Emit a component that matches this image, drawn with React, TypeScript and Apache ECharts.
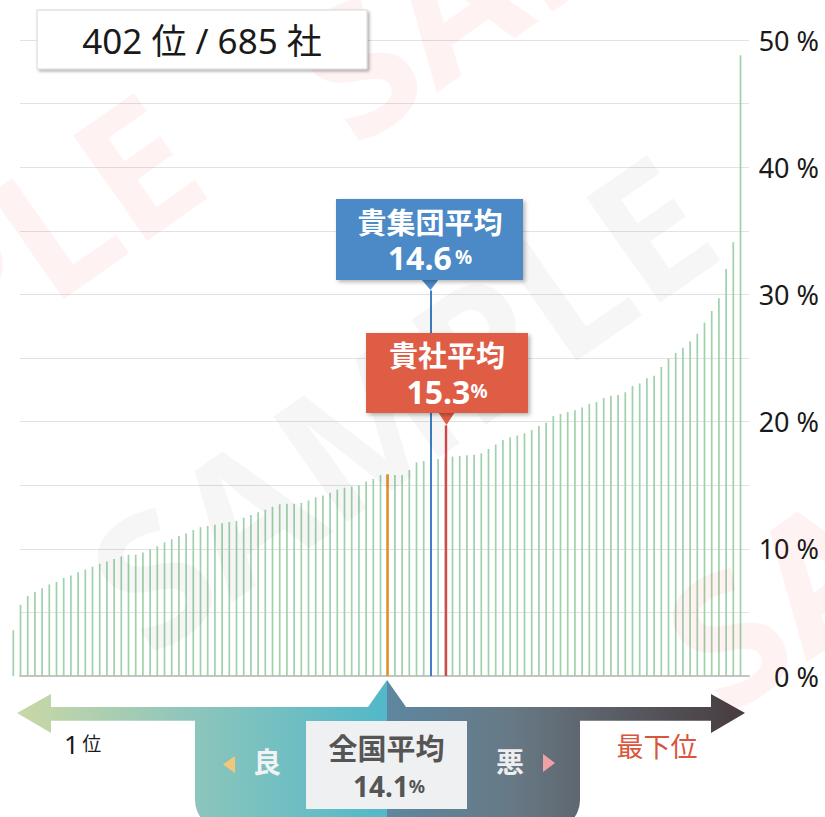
import React, { useEffect, useRef } from "react";
import * as echarts from "echarts";

// distribution of all companies (sorted), percent
const values = [
  3.6, 5.6, 6.3, 6.6, 6.9, 7.2, 7.4, 7.7, 7.9, 8.15,
  8.36, 8.6, 8.83, 9.0, 9.2, 9.4, 9.54, 9.54, 9.7, 9.96,
  10.2, 10.5, 10.75, 11.0, 11.2, 11.48, 11.7, 11.8, 11.9, 12.0,
  12.1, 12.2, 12.45, 12.66, 12.87, 13.07, 13.3, 13.5, 13.55, 13.55,
  13.6, 13.8, 14.05, 14.2, 14.4, 14.65, 14.8, 14.9, 15.0, 15.3,
  15.5, 15.8, 15.85, 15.8, 15.8, 16.2, 16.8, 16.9, 17.0, 17.06,
  17.15, 17.25, 17.3, 17.35, 17.4, 17.5, 17.85, 18.2, 18.55, 18.76,
  18.9, 19.08, 19.34, 19.65, 19.9, 20.44, 20.6, 20.75, 20.9, 21.1,
  21.4, 21.54, 21.86, 22.04, 22.1, 22.3, 22.8, 23.0, 23.4, 23.6,
  24.3, 24.95, 25.4, 25.8, 26.3, 26.9, 27.8, 28.7, 29.7, 32.0,
  34.1, 48.8,
];

const nationalIdx = 52;
const groupIdx = 58;
const companyIdx = 60;
const groupLineTop = 30.3;
const companyLineTop = 19.7;
const nationalBar = 15.85;

const yLabelValues = [0, 10, 20, 30, 40, 50];
const rank = 402;
const totalCompanies = 685;
const groupAvg = "14.6";
const companyAvg = "15.3";
const nationalAvg = "14.1";

const FONT = "'Noto Sans', 'Noto Sans CJK JP', sans-serif";

const leftPath =
  "M17 713 L51 694 L51 707 L368 707 L387 680 L387 830 L225 830 A30 30 0 0 1 195 800 L195 720.7 L51 720.7 L51 733 Z";
const rightPath =
  "M387 680 L406 707 L711 707 L711 694 L745 713 L711 733 L711 720.7 L580 720.7 L580 800 A30 30 0 0 1 550 830 L387 830 Z";

echarts.graphic.registerShape("arrowLeftPart", echarts.graphic.extendPath(leftPath, {}));
echarts.graphic.registerShape("arrowRightPart", echarts.graphic.extendPath(rightPath, {}));

export default function App() {
  const ref = useRef<HTMLDivElement>(null);

  useEffect(() => {
    if (!ref.current) return;
    const chart = echarts.init(ref.current, undefined, { renderer: "svg" });

    const shadow = {
      shadowBlur: 4,
      shadowOffsetX: 2,
      shadowOffsetY: 2,
      shadowColor: "rgba(0,0,0,0.3)",
    };

    const markLineCommon = {
      silent: true,
      symbol: "none",
      label: { show: false },
      emphasis: { disabled: true },
      animation: false,
    };

    const watermark = (x: number, y: number, fill: string) => ({
      type: "text",
      z: 90,
      silent: true,
      x,
      y,
      rotation: (35 * Math.PI) / 180,
      style: {
        text: "SAMPLE",
        font: `bold 180px ${FONT}`,
        fill,
        textAlign: "center",
        textVerticalAlign: "middle",
      },
    });

    chart.setOption({
      animation: false,
      grid: [
        { left: 9.7, top: 40, width: 734.4, height: 636 },
        { left: 20, top: 40, width: 729, height: 636 },
      ],
      xAxis: [
        {
          type: "category",
          gridIndex: 0,
          boundaryGap: true,
          axisLine: { show: false },
          axisTick: { show: false },
          axisLabel: { show: false },
          splitLine: { show: false },
        },
        {
          type: "value",
          gridIndex: 1,
          min: 0,
          max: 1,
          axisLine: { show: true, lineStyle: { color: "#c4c4c4", width: 2 } },
          axisTick: { show: false },
          axisLabel: { show: false },
          splitLine: { show: false },
        },
      ],
      yAxis: [
        {
          type: "value",
          gridIndex: 0,
          min: 0,
          max: 50,
          show: false,
        },
        {
          type: "value",
          gridIndex: 1,
          position: "right",
          min: 0,
          max: 50,
          interval: 5,
          axisLine: { show: false },
          axisTick: { show: false },
          splitLine: { show: true, lineStyle: { color: "#e2e2e2", width: 1 } },
          axisLabel: {
            align: "right",
            margin: 70,
            fontSize: 27,
            fontFamily: FONT,
            color: "#1a1a1a",
            formatter: (v: number) => (yLabelValues.includes(v) ? `${v} %` : ""),
          },
        },
      ],
      series: [
        {
          type: "bar",
          xAxisIndex: 0,
          yAxisIndex: 0,
          data: values,
          barWidth: 1.7,
          silent: true,
          itemStyle: { color: "#9fd1aa" },
          z: 3,
          markLine: {
            ...markLineCommon,
            data: [
              [
                { coord: [nationalIdx, 0], lineStyle: { color: "#e8912c", width: 2.6, type: "solid" } },
                { coord: [nationalIdx, nationalBar] },
              ],
              [
                { coord: [groupIdx, 0], lineStyle: { color: "#3f7fc3", width: 2, type: "solid" } },
                { coord: [groupIdx, groupLineTop] },
              ],
              [
                { coord: [companyIdx, 0], lineStyle: { color: "#d9474b", width: 2.4, type: "solid" } },
                { coord: [companyIdx, companyLineTop] },
              ],
            ],
          },
        },
      ],
      graphic: [
        // watermarks (under the labels)
        watermark(400, 400, "rgba(0,0,0,0.035)"),
        watermark(-113, 338, "rgba(255,0,0,0.05)"),
        watermark(605, -110, "rgba(255,0,0,0.05)"),
        watermark(975, 460, "rgba(255,0,0,0.05)"),
        // rank box
        {
          type: "rect",
          z: 100,
          shape: { x: 37, y: 10, width: 330, height: 59 },
          style: { fill: "#ffffff", stroke: "#d6d6d6", lineWidth: 1, ...shadow, shadowBlur: 3 },
        },
        {
          type: "text",
          z: 101,
          x: 202,
          y: 40,
          style: {
            text: `${rank} 位 / ${totalCompanies} 社`,
            font: `35px ${FONT}`,
            fill: "#1a1a1a",
            textAlign: "center",
            textVerticalAlign: "middle",
          },
        },
        // group callout
        {
          type: "polygon",
          z: 100,
          shape: { points: [[421, 279], [439, 279], [430.5, 290]] },
          style: { fill: "#4b89c7" },
        },
        {
          type: "rect",
          z: 100,
          shape: { x: 336, y: 199, width: 187, height: 81 },
          style: { fill: "#4b89c7", ...shadow },
        },
        {
          type: "text",
          z: 101,
          x: 430,
          y: 222,
          style: {
            text: "貴集団平均",
            font: `bold 29px ${FONT}`,
            fill: "#ffffff",
            textAlign: "center",
            textVerticalAlign: "middle",
          },
        },
        {
          type: "text",
          z: 101,
          x: 430,
          y: 257,
          style: {
            text: `{n|${groupAvg}} {p|%}`,
            fill: "#ffffff",
            textAlign: "center",
            textVerticalAlign: "middle",
            rich: {
              n: { font: `bold 32px ${FONT}`, fill: "#ffffff" },
              p: { font: `bold 19px ${FONT}`, fill: "#ffffff" },
            },
          },
        },
        // company callout
        {
          type: "polygon",
          z: 102,
          shape: { points: [[438, 412], [455, 412], [446.5, 425]] },
          style: { fill: "#df5c45" },
        },
        {
          type: "rect",
          z: 102,
          shape: { x: 366, y: 333, width: 162, height: 80 },
          style: { fill: "#df5c45", ...shadow },
        },
        {
          type: "text",
          z: 103,
          x: 447,
          y: 355,
          style: {
            text: "貴社平均",
            font: `bold 29px ${FONT}`,
            fill: "#ffffff",
            textAlign: "center",
            textVerticalAlign: "middle",
          },
        },
        {
          type: "text",
          z: 103,
          x: 447,
          y: 391,
          style: {
            text: `{n|${companyAvg}}{p|%}`,
            fill: "#ffffff",
            textAlign: "center",
            textVerticalAlign: "middle",
            rich: {
              n: { font: `bold 32px ${FONT}`, fill: "#ffffff" },
              p: { font: `bold 19px ${FONT}`, fill: "#ffffff" },
            },
          },
        },
        // bottom arrow
        {
          type: "arrowLeftPart",
          z: 50,
          x: 0,
          y: 0,
          style: {
            fill: new echarts.graphic.LinearGradient(0, 0, 1, 0, [
              { offset: 0, color: "#cad8a5" },
              { offset: 0.45, color: "#90c6bb" },
              { offset: 1, color: "#52b8c9" },
            ]),
          },
        },
        {
          type: "arrowRightPart",
          z: 50,
          x: 0,
          y: 0,
          style: {
            fill: new echarts.graphic.LinearGradient(0, 0, 1, 0, [
              { offset: 0, color: "#5e87a0" },
              { offset: 0.35, color: "#677985" },
              { offset: 0.6, color: "#5c6169" },
              { offset: 1, color: "#473b3f" },
            ]),
          },
        },
        {
          type: "rect",
          z: 51,
          shape: { x: 306, y: 721, width: 161, height: 88 },
          style: { fill: "#eff0f2" },
        },
        {
          type: "text",
          z: 52,
          x: 386.5,
          y: 748,
          style: {
            text: "全国平均",
            font: `bold 29px ${FONT}`,
            fill: "#555555",
            textAlign: "center",
            textVerticalAlign: "middle",
          },
        },
        {
          type: "text",
          z: 52,
          x: 389,
          y: 786,
          style: {
            text: `{n|${nationalAvg}}{p|%}`,
            textAlign: "center",
            textVerticalAlign: "middle",
            rich: {
              n: { font: `bold 28px ${FONT}`, fill: "#555555" },
              p: { font: `bold 18px ${FONT}`, fill: "#555555" },
            },
          },
        },
        {
          type: "polygon",
          z: 52,
          shape: { points: [[235, 756], [235, 773], [223, 764.5]] },
          style: { fill: "#f3c77a" },
        },
        {
          type: "text",
          z: 52,
          x: 267,
          y: 762,
          style: {
            text: "良",
            font: `bold 28px ${FONT}`,
            fill: "#f2f2f2",
            textAlign: "center",
            textVerticalAlign: "middle",
          },
        },
        {
          type: "text",
          z: 52,
          x: 510,
          y: 762,
          style: {
            text: "悪",
            font: `bold 28px ${FONT}`,
            fill: "#eeeeee",
            textAlign: "center",
            textVerticalAlign: "middle",
          },
        },
        {
          type: "polygon",
          z: 52,
          shape: { points: [[543, 754], [543, 772], [555, 763]] },
          style: { fill: "#f2a0a6" },
        },
        {
          type: "text",
          z: 52,
          x: 64,
          y: 744,
          style: {
            text: "{a|1} {b|位}",
            textAlign: "left",
            textVerticalAlign: "middle",
            rich: {
              a: { font: `26px ${FONT}`, fill: "#1a1a1a" },
              b: { font: `19px ${FONT}`, fill: "#1a1a1a" },
            },
          },
        },
        {
          type: "text",
          z: 52,
          x: 657,
          y: 746,
          style: {
            text: "最下位",
            font: `27px ${FONT}`,
            fill: "#d9553c",
            textAlign: "center",
            textVerticalAlign: "middle",
          },
        },
      ],
    });

    return () => chart.dispose();
  }, []);

  return (
    <div
      ref={ref}
      style={{ position: "absolute", left: 0, top: 0, width: 825, height: 817 }}
    />
  );
}
